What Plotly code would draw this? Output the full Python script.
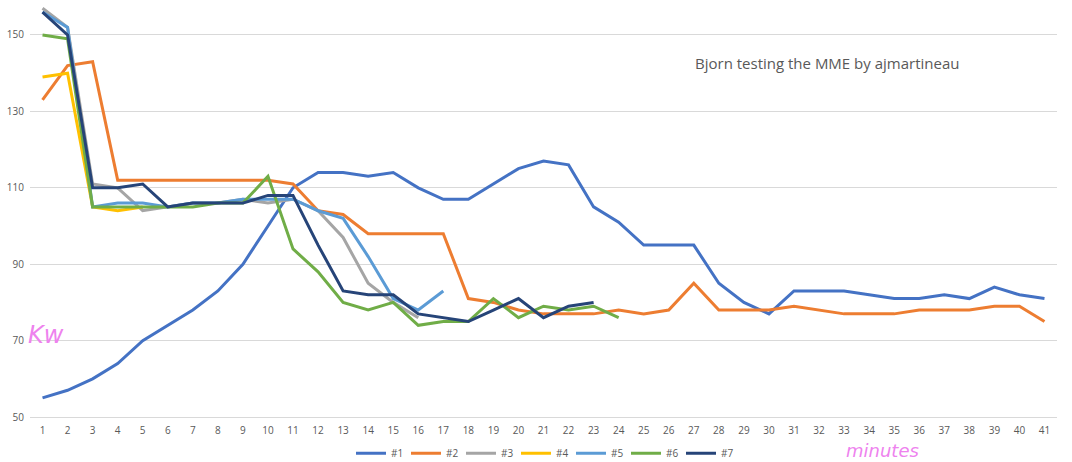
import plotly.graph_objects as go

minutes = list(range(1, 42))

s1 = [55, 57, 60, 64, 70, 74, 78, 83, 90, 100, 110, 114, 114, 113, 114, 110, 107, 107, 111, 115,
      117, 116, 105, 101, 95, 95, 95, 85, 80, 77, 83, 83, 83, 82, 81, 81, 82, 81, 84, 82, 81]
s2 = [133, 142, 143, 112, 112, 112, 112, 112, 112, 112, 111, 104, 103, 98, 98, 98, 98, 81, 80, 78,
      77, 77, 77, 78, 77, 78, 85, 78, 78, 78, 79, 78, 77, 77, 77, 78, 78, 78, 79, 79, 75]
s3 = [157, 152, 111, 110, 104, 105, 106, 106, 107, 106, 107, 104, 97, 85, 80, 76]
s4 = [139, 140, 105, 104, 105]
s5 = [156, 152, 105, 106, 106, 105, 106, 106, 107, 107, 107, 104, 102, 92, 81, 78, 83]
s6 = [150, 149, 105, 105, 105, 105, 105, 106, 106, 113, 94, 88, 80, 78, 80, 74, 75, 75, 81, 76,
      79, 78, 79, 76]
s7 = [156, 150, 110, 110, 111, 105, 106, 106, 106, 108, 108, 95, 83, 82, 82, 77, 76, 75, 78, 81,
      76, 79, 80]

series_names = ["#1", "#2", "#3", "#4", "#5", "#6", "#7"]
series_values = [s1, s2, s3, s4, s5, s6, s7]
colors = ["#4472C4", "#ED7D31", "#A5A5A5", "#FFC000", "#5B9BD5", "#70AD47", "#264478"]
y_ticks = [50, 70, 90, 110, 130, 150]

fig = go.Figure()
for name, vals, col in zip(series_names, series_values, colors):
    fig.add_trace(go.Scatter(
        x=minutes[:len(vals)], y=vals, name=name, mode="lines",
        line=dict(color=col, width=3),
    ))

fig.update_layout(
    width=1072, height=462,
    margin=dict(l=29.5, r=14.5, t=0, b=45, autoexpand=False),
    paper_bgcolor="white", plot_bgcolor="white",
    font=dict(family="Open Sans, Lato, sans-serif", size=10, color="#595959"),
    showlegend=True,
    legend=dict(orientation="h", x=0.5, xanchor="center", y=-0.087, yanchor="middle",
                font=dict(size=10, color="#595959"), entrywidth=10, entrywidthmode="pixels",
                tracegroupgap=0),
    xaxis=dict(range=[0.5, 41.5], tickmode="array", tickvals=minutes,
               ticktext=[str(m) for m in minutes], showgrid=False, zeroline=False,
               showline=True, linecolor="#d9d9d9", linewidth=1, ticks="",
               ticklabelstandoff=4, automargin=False,
               tickfont=dict(size=10, color="#595959")),
    yaxis=dict(range=[50, 159.16], tickmode="array", tickvals=y_ticks,
               showgrid=True, gridcolor="#d9d9d9", gridwidth=1, zeroline=False,
               showline=False, ticks="", ticklabelstandoff=5, automargin=False,
               tickfont=dict(size=10, color="#595959")),
    annotations=[
        dict(text="Bjorn testing the MME by ajmartineau", xref="paper", yref="paper",
             x=0.776, y=0.85, showarrow=False, xanchor="center", yanchor="middle",
             font=dict(size=15, color="#595959", family="Open Sans, sans-serif")),
        dict(text="<i>Kw</i>", xref="paper", yref="paper", x=0.016, y=0.197, showarrow=False,
             xanchor="center", yanchor="middle",
             font=dict(size=24, color="#EE82EE", family="DejaVu Sans")),
        dict(text="<i>minutes</i>", xref="paper", yref="paper", x=0.830, y=-0.081, showarrow=False,
             xanchor="center", yanchor="middle", borderpad=0,
             font=dict(size=18, color="#EE82EE", family="DejaVu Sans")),
    ],
)

fig.write_html("out.html")
